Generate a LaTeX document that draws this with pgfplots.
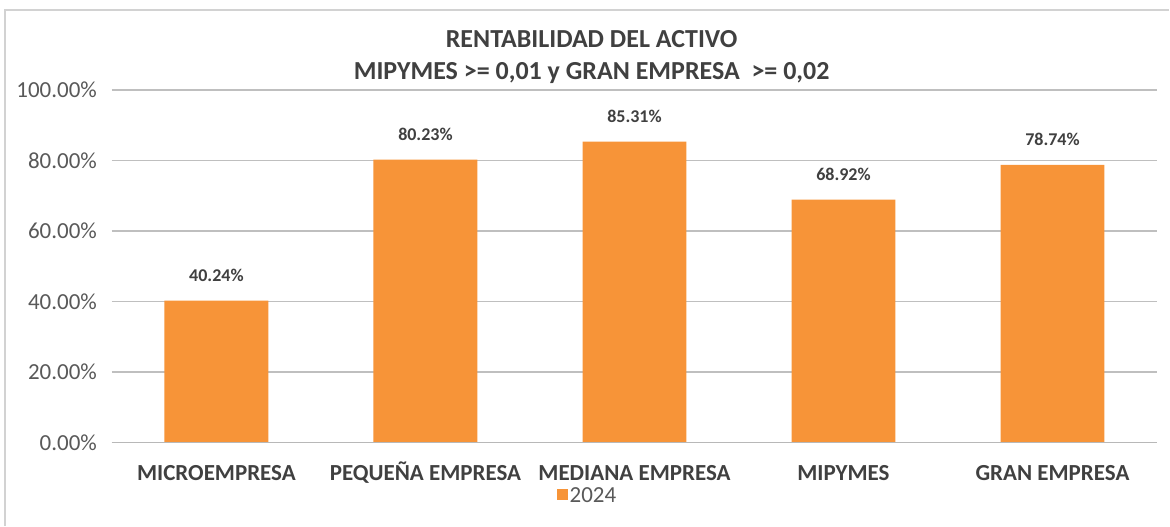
\documentclass[border=0pt]{standalone}
\usepackage{pgfplots}
\pgfplotsset{compat=1.18}
\usepackage{fontspec}
\setmainfont{Carlito}
\definecolor{barc}{RGB}{247,148,56}
\definecolor{txt}{RGB}{64,64,64}
\definecolor{tick}{RGB}{89,89,89}
\definecolor{grid}{RGB}{217,217,217}
\definecolor{frame}{RGB}{210,210,210}
\begin{document}
\begin{tikzpicture}
\fill[white] (0pt,0pt) rectangle (585pt,263pt);
\draw[frame,line width=1pt] (2.5pt,0pt) -- (2.5pt,258pt) -- (585pt,258pt);
\begin{axis}[
  at={(56pt,41.5pt)}, anchor=south west,
  scale only axis, width=523pt, height=176.5pt,
  xmin=-0.5, xmax=4.5, ymin=0, ymax=100,
  axis line style={draw=none},
  ytick={0,20,40,60,80,100},
  yticklabels={0.00\%,20.00\%,40.00\%,60.00\%,80.00\%,100.00\%},
  ymajorgrids, xmajorgrids=false, grid style={grid, line width=0.8pt},
  major tick length=0pt, tick style={draw=none},
  xtick={0,1,2,3,4},
  xticklabels={MICROEMPRESA,PEQUEÑA EMPRESA,MEDIANA EMPRESA,MIPYMES,GRAN EMPRESA},
  xticklabel style={font=\fontsize{11.5}{13}\selectfont\bfseries, text=txt, text height=8pt, text depth=0.5pt, inner sep=1pt, yshift=-10pt},
  yticklabel style={font=\fontsize{11.5}{13}\selectfont, text=tick, xshift=-4pt},
  ybar, bar width=52pt,
  point meta=explicit symbolic,
  nodes near coords,
  nodes near coords style={font=\fontsize{9}{11}\selectfont\bfseries, text=txt, yshift=6pt},
  legend style={draw=none, at={(0.455,-0.148)}, anchor=center, font=\fontsize{11.5}{13}\selectfont, text=tick, fill=none, inner sep=1pt, nodes={inner sep=1pt, text depth=0pt}},
  legend image code/.code={\fill[barc] (-2.5pt,-2.75pt) rectangle (3pt,2.75pt);},
  clip=false,
]
\addplot[fill=barc, draw=none] coordinates {(0,40.24) [40.24\%] (1,80.23) [80.23\%] (2,85.31) [85.31\%] (3,68.92) [68.92\%] (4,78.74) [78.74\%]};
\addlegendentry{2024}
\draw[grid!85!black, line width=0.8pt] (axis cs:-0.5,0) -- (axis cs:4.5,0);
\node[font=\fontsize{13}{16}\selectfont\bfseries, text=txt, align=center] at (axis description cs:0.459,1.092) {RENTABILIDAD DEL ACTIVO\\MIPYMES >= 0,01 y GRAN EMPRESA\ \ >= 0,02};
\end{axis}
\end{tikzpicture}
\end{document}
